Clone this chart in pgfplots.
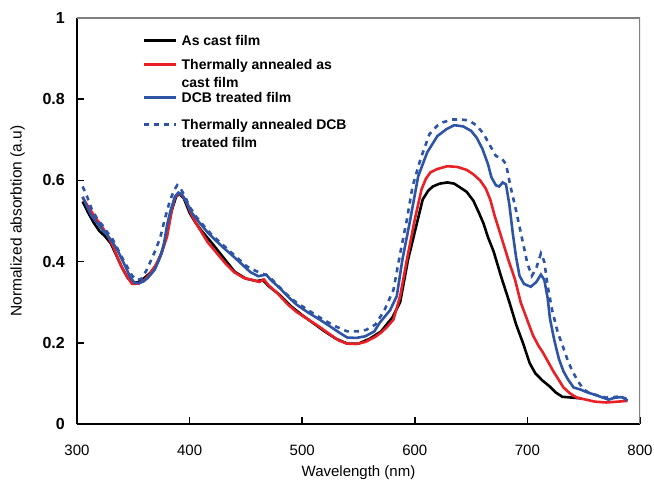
\documentclass[border=0pt]{standalone}
\usepackage{fontspec}
\setmainfont{Liberation Sans}
\usepackage{pgfplots}
\pgfplotsset{compat=1.18}
\definecolor{cred}{RGB}{234,32,39}
\definecolor{cblue}{RGB}{46,84,166}
\newcommand\LE[1]{\begin{tabular}[t]{@{}l@{}}#1\end{tabular}}
\begin{document}
\begin{tikzpicture}
\begin{axis}[
  name=ax,
  scale only axis,
  width=563bp, height=406bp,
  xmin=300, xmax=800, ymin=0, ymax=1,
  xtick={300,400,500,600,700,800},
  ytick={0,0.2,0.4,0.6,0.8,1},
  axis x line*=bottom, axis y line*=left,
  axis line style={-, black, line width=2bp},
  tick align=inside,
  major tick length=7bp,
  tick style={black, line width=1.5bp},
  /pgf/number format/assume math mode=true,
  xticklabel style={font=\fontsize{15bp}{18bp}\selectfont, anchor=center, yshift=-26bp},
  yticklabel style={font=\fontsize{16bp}{19bp}\selectfont\bfseries, anchor=east, inner sep=0pt, xshift=-12bp},
  xlabel={Wavelength (nm)},
  ylabel={Normalized absorbtion (a.u)},
  x label style={font=\fontsize{15bp}{18bp}\selectfont, at={([yshift=-49bp]axis description cs:0.5,0)}, anchor=center},
  y label style={font=\fontsize{15.5bp}{18bp}\selectfont, at={([xshift=-59.5bp]axis description cs:0,0.5)}, anchor=center},
  legend style={at={(axis description cs:0.117,0.963)}, anchor=north west, draw=none, fill=none,
    inner sep=0pt, row sep=0pt, column sep=4bp,
    font=\fontsize{14bp}{18bp}\selectfont\bfseries,
    nodes={inner sep=0pt}, cells={anchor=base west}},
  legend image code/.code={\draw[#1] (0bp,5bp) -- (32bp,5bp);},
]
\addplot[black, line width=2.6bp] coordinates {
(305,0.548) (310,0.520) (315,0.495) (320,0.475) (325,0.462) (330,0.445) (335,0.415) (340,0.385)
(345,0.360) (350,0.347) (355,0.350) (360,0.360) (365,0.372) (370,0.390) (375,0.420) (380,0.470)
(384,0.525) (388,0.560) (391,0.567) (395,0.555) (400,0.520) (405,0.497) (410,0.478) (420,0.445)
(430,0.410) (440,0.375) (450,0.358) (460,0.352) (465,0.355) (470,0.340) (480,0.318) (490,0.290)
(500,0.268) (510,0.248) (520,0.228) (530,0.210) (540,0.198) (550,0.198) (560,0.210) (570,0.228)
(580,0.262) (587,0.300) (594,0.405) (602,0.496) (607,0.553) (612,0.575) (616,0.585) (622,0.592)
(629,0.595) (635,0.592) (640,0.583) (646,0.572) (652,0.550) (657,0.520) (661,0.494) (665,0.460)
(670,0.425) (677,0.360) (684,0.300) (690,0.245) (696,0.200) (702,0.150) (707,0.125) (713,0.108)
(720,0.092) (725,0.078) (731,0.067) (740,0.065) (748,0.063)
};
\addlegendentry[text height=12bp, text depth=12bp]{\LE{As cast film}}
\addplot[cred, line width=2.6bp] coordinates {
(305,0.558) (310,0.535) (316,0.510) (322,0.487) (328,0.460) (332,0.438) (336,0.410) (340,0.385)
(345,0.360) (349,0.345) (355,0.346) (360,0.355) (365,0.370) (370,0.392) (375,0.420) (380,0.462)
(384,0.525) (387,0.558) (390,0.567) (393,0.565) (397,0.548) (401,0.520) (405,0.498) (410,0.475)
(416,0.448) (425,0.418) (432,0.395) (440,0.373) (448,0.360) (455,0.355) (462,0.350) (466,0.356)
(470,0.342) (478,0.322) (487,0.295) (495,0.276) (505,0.258) (515,0.240) (525,0.220) (533,0.205)
(540,0.198) (548,0.197) (556,0.202) (565,0.215) (570,0.225) (575,0.238) (581,0.257) (587,0.315)
(593,0.405) (600,0.504) (606,0.578) (610,0.605) (614,0.620) (620,0.628) (629,0.635) (638,0.633)
(646,0.626) (652,0.615) (658,0.600) (663,0.580) (667,0.553) (671,0.512) (676,0.468) (683,0.405)
(689,0.356) (694,0.300) (700,0.255) (705,0.218) (710,0.192) (714,0.175) (718,0.155) (723,0.130)
(728,0.108) (732,0.090) (738,0.075) (744,0.065) (752,0.060) (760,0.055) (770,0.053) (780,0.055)
(789,0.057)
};
\addlegendentry[text height=12bp, text depth=21bp]{\LE{Thermally annealed as\\cast film}}
\addplot[cblue, line width=2.6bp] coordinates {
(305,0.560) (309,0.535) (313,0.512) (318,0.495) (322,0.480) (327,0.465) (331,0.450) (336,0.428)
(340,0.405) (344,0.382) (347,0.363) (351,0.348) (355,0.347) (359,0.351) (363,0.360) (369,0.380)
(373,0.405) (377,0.440) (380,0.490) (383,0.525) (387,0.560) (390,0.570) (393,0.566) (397,0.548)
(402,0.520) (409,0.495) (416,0.472) (424,0.450) (431,0.432) (440,0.410) (447,0.392) (454,0.374)
(461,0.364) (468,0.368) (472,0.355) (480,0.335) (488,0.312) (495,0.294) (505,0.275) (515,0.258)
(525,0.240) (533,0.225) (540,0.213) (548,0.212) (556,0.216) (564,0.228) (569,0.250) (578,0.280)
(584,0.315) (589,0.405) (596,0.504) (603,0.610) (611,0.669) (620,0.709) (628,0.726) (635,0.736)
(643,0.733) (650,0.722) (655,0.705) (660,0.678) (665,0.640) (668,0.608) (672,0.588) (675,0.585)
(678,0.595) (681,0.590) (684,0.540) (687,0.470) (690,0.410) (693,0.365) (697,0.345) (703,0.338)
(708,0.350) (712,0.368) (715,0.355) (718,0.310) (720,0.260) (724,0.205) (728,0.160) (732,0.130)
(736,0.110) (741,0.090) (747,0.085) (753,0.078) (760,0.072) (766,0.066) (772,0.060) (778,0.065)
(784,0.066) (789,0.058)
};
\addlegendentry[text height=12bp, text depth=15bp]{\LE{DCB treated film}}
\addplot[cblue, line width=2.6bp, dash pattern=on 5bp off 5bp] coordinates {
(305,0.585) (309,0.560) (313,0.530) (318,0.505) (323,0.488) (327,0.472) (331,0.458) (336,0.432)
(340,0.410) (345,0.385) (349,0.365) (353,0.355) (357,0.357) (362,0.380) (366,0.405) (370,0.430)
(374,0.460) (378,0.505) (382,0.545) (386,0.575) (389,0.588) (392,0.580) (396,0.560) (400,0.535)
(406,0.510) (412,0.490) (420,0.465) (428,0.445) (436,0.425) (444,0.405) (451,0.388) (458,0.378)
(465,0.370) (470,0.365) (476,0.348) (484,0.325) (492,0.305) (500,0.290) (510,0.272) (520,0.255)
(530,0.240) (540,0.228) (549,0.228) (557,0.232) (565,0.245) (573,0.280) (581,0.330) (587,0.420)
(593,0.504) (598,0.585) (605,0.652) (613,0.714) (620,0.735) (625,0.743) (633,0.750) (640,0.750)
(648,0.748) (655,0.735) (661,0.715) (667,0.685) (672,0.660) (677,0.655) (681,0.640) (685,0.585)
(690,0.525) (695,0.460) (700,0.395) (704,0.365) (708,0.385) (712,0.420) (715,0.400) (718,0.340)
(722,0.280) (727,0.225) (731,0.195) (736,0.155) (740,0.130) (745,0.105) (750,0.085) (756,0.075)
(763,0.070) (770,0.065) (776,0.066) (782,0.068) (788,0.062)
};
\addlegendentry[text height=12bp, text depth=20bp]{\LE{Thermally annealed DCB\\treated film}}
\draw[gray, line width=2bp] (rel axis cs:0,1) -- (rel axis cs:1,1) -- (rel axis cs:1,0);
\end{axis}
\pgfresetboundingbox
\path[use as bounding box] ([xshift=-77bp,yshift=-59bp]ax.south west) rectangle ([xshift=14bp,yshift=18bp]ax.north east);
\end{tikzpicture}
\end{document}
